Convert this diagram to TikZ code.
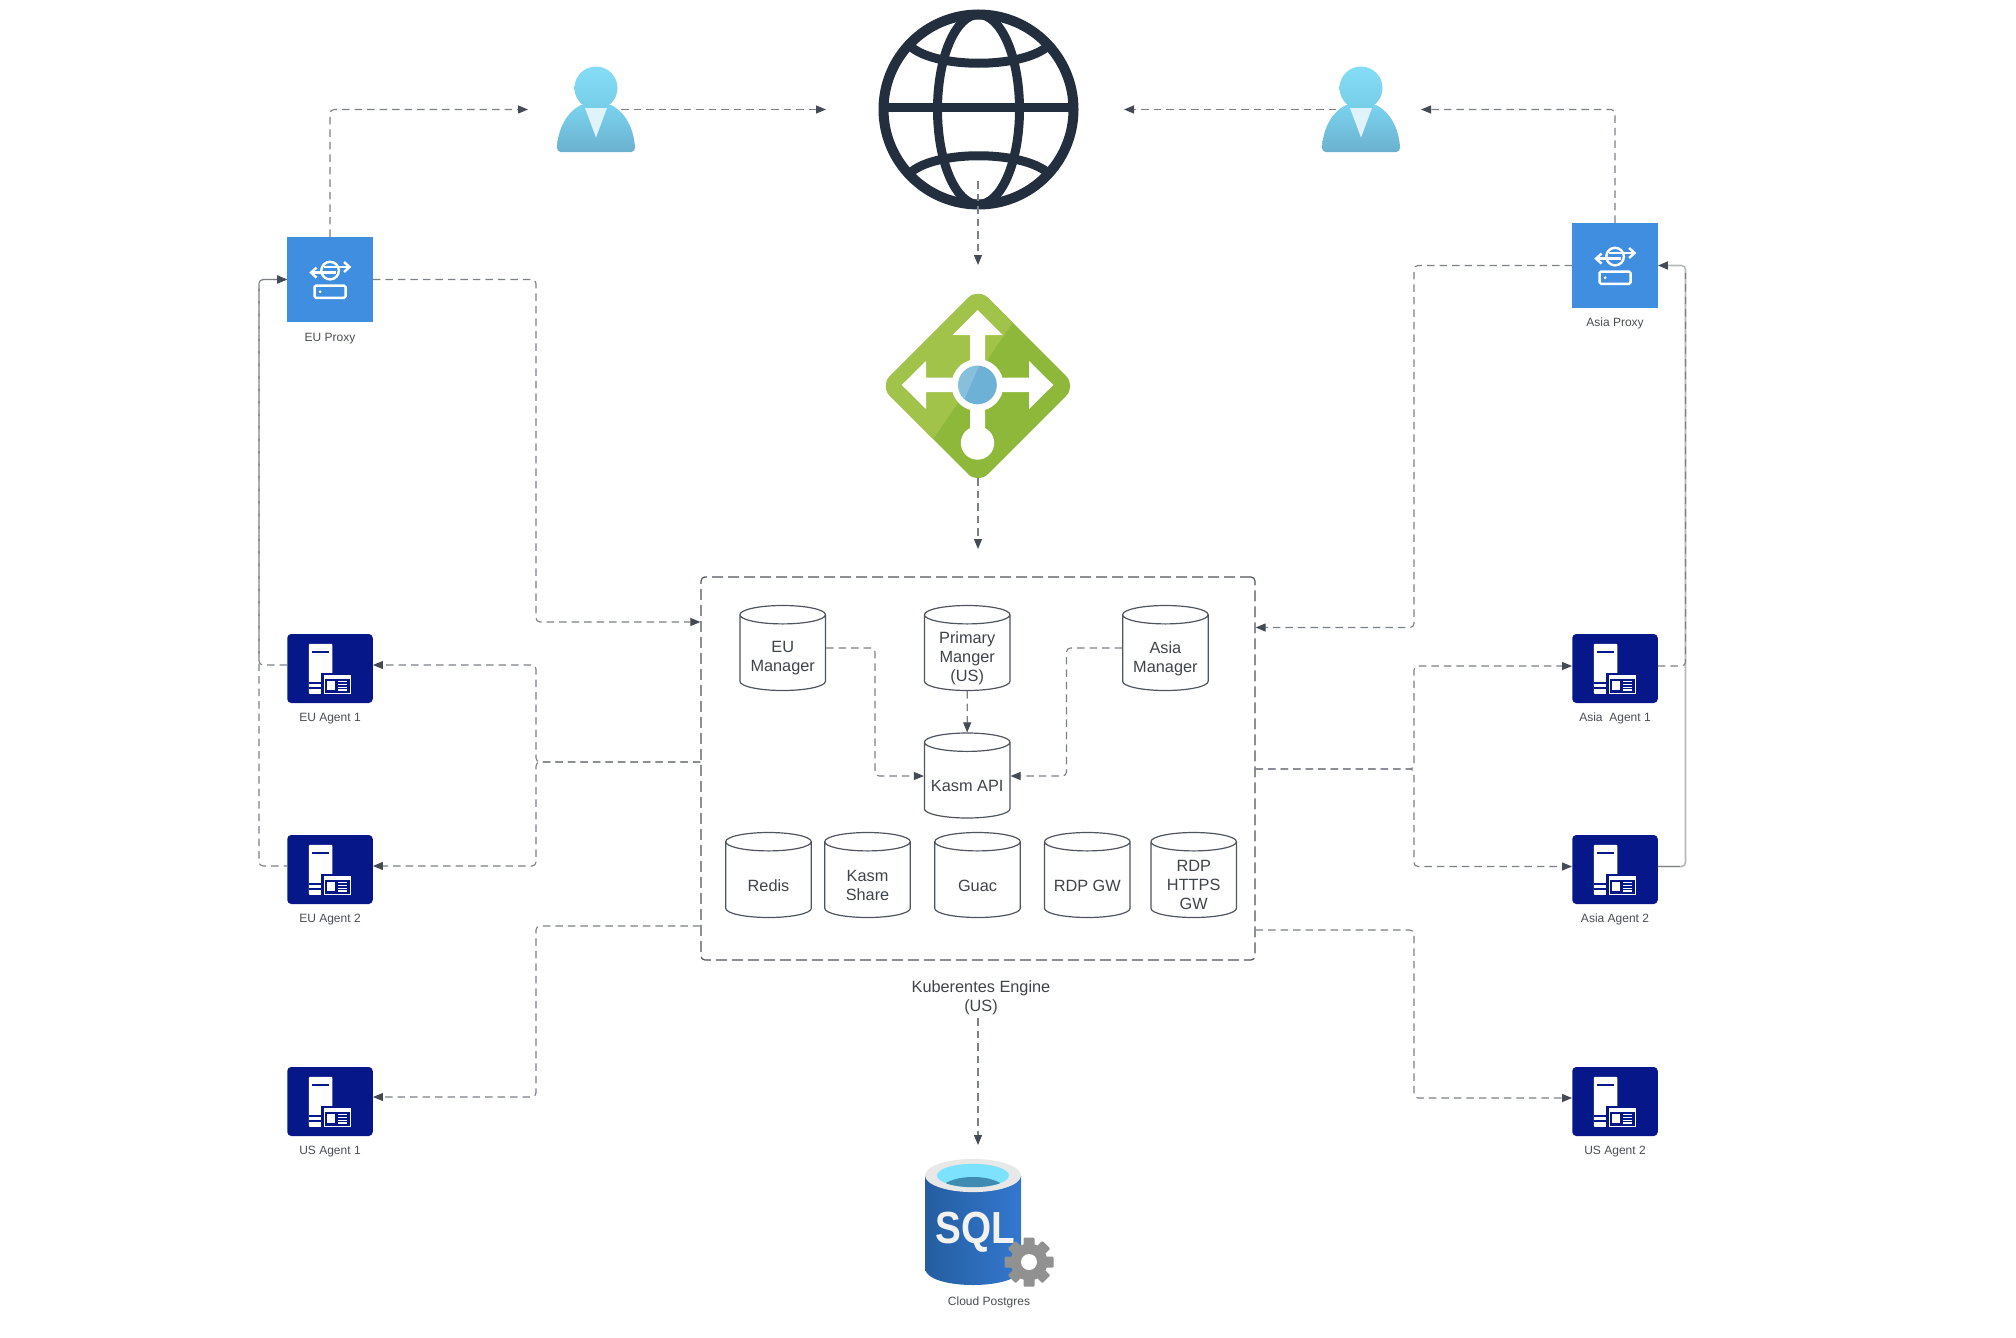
\documentclass[tikz,border=0pt]{standalone}
\usepackage{fontspec}
\setmainfont{Liberation Sans}
\usetikzlibrary{arrows.meta,shapes.geometric,calc}
\definecolor{conn}{HTML}{7B7F86}
\definecolor{tipc}{HTML}{454B54}
\definecolor{boxc}{HTML}{4F555E}
\definecolor{agentc}{HTML}{06178A}
\definecolor{proxyc}{HTML}{408EE0}
\definecolor{txtc}{HTML}{3F444B}
\definecolor{lblc}{HTML}{4A4D52}
\definecolor{globec}{HTML}{232F3E}
\definecolor{lbdark}{HTML}{8DB839}
\definecolor{lblight}{HTML}{A1C349}
\definecolor{gearc}{HTML}{919191}
\definecolor{bodytop}{HTML}{7AD3EE}
\definecolor{bodybot}{HTML}{6BB1CF}
\definecolor{headtop}{HTML}{84DDF6}
\definecolor{headbot}{HTML}{76CDE8}
\definecolor{collar}{HTML}{E0F3FA}
\definecolor{lbblue}{HTML}{6DB2D6}
\definecolor{lbbluel}{HTML}{88BFDD}
\definecolor{sqll}{HTML}{245EA0}
\definecolor{sqlr}{HTML}{3477CF}
\definecolor{sqlrim}{HTML}{E8E8E8}
\definecolor{sqlcy}{HTML}{7DE2FD}
\definecolor{sqlte}{HTML}{3F8BB2}
\newcommand{\cyltext}[1]{\parbox[c][36pt][c]{80pt}{\centering\vspace*{11pt}#1\par}}
\newcommand{\agentart}[1]{%
  \begin{scope}[shift={(#1.north west)}]
    \fill[white,rounded corners=1pt] (21.7,10) rectangle (45.3,60);
    \fill[agentc] (24.7,17.5) rectangle (42,19.5);
    \fill[agentc] (21.7,47.8) rectangle (34.3,49.8);
    \fill[agentc] (21.7,53) rectangle (34.3,55);
    \fill[agentc] (34.3,39) rectangle (64.5,62);
    \fill[white] (36.7,41) rectangle (63.7,60);
    \fill[agentc] (37.7,45.3) rectangle (62.7,58.8);
    \fill[white] (39.7,47) rectangle (47.7,56.5);
    \foreach \ly in {47.5,50.2,52.9,55.6}{\fill[white] (50.5,\ly) rectangle (60,\ly+1.1);}
  \end{scope}}
\newcommand{\proxyart}[1]{%
  \begin{scope}[shift={(#1.north west)},white,line width=2.4pt]
    \draw (43,33.8) circle (8.8);
    \draw (24.5,35.8) -- (49,35.8);
    \draw (37,30.2) -- (62,30.2);
    \draw (29.5,30.8) -- (24,35.8) -- (29.5,40.8);
    \draw (57,25.2) -- (62.5,30.2) -- (57,35.2);
    \draw[rounded corners=1.5pt] (27.5,48.8) rectangle (58.5,61);
    \fill (33,54.9) circle (1.5);
  \end{scope}}
\newcommand{\userart}[1]{%
  \begin{scope}[shift={(#1.center)}]
    \shade[top color=bodytop,bottom color=bodybot]
      (-35.5,42.5) .. controls (-38,42.5) and (-39,40) .. (-39,38)
      .. controls (-38,20) and (-30,3) .. (-15,-4.5) -- (15,-4.5)
      .. controls (30,3) and (38,20) .. (39,38)
      .. controls (39,40) and (38,42.5) .. (35.5,42.5) -- cycle;
    \shade[top color=headtop,bottom color=headbot]
      (0,-21.5) ellipse (21.5 and 21.5);
    \fill[collar] (-11,-1.5) -- (11,-1.5) -- (0,28) -- cycle;
  \end{scope}}
\tikzset{
  flow/.style={draw=conn,line width=1.1pt,dash pattern=on 7.5pt off 5pt,rounded corners=4pt},
  flowtip/.style={flow,-{Triangle[length=10pt,width=8pt,color=tipc]}},
  lighter/.style={draw=conn!55!white,line width=1.6pt,rounded corners=4pt},
  agentbox/.style={fill=agentc,rounded corners=4pt,minimum width=85.5pt,minimum height=69pt,inner sep=0pt},
  proxybox/.style={fill=proxyc,minimum width=85.5pt,minimum height=85pt,inner sep=0pt},
  iconlabel/.style={font=\fontsize{12}{14}\selectfont,text=lblc,inner sep=0pt},
  bodytext/.style={font=\fontsize{16.3}{19}\selectfont,text=txtc,align=center},
  dbcyl/.style={shape=cylinder,shape border rotate=90,aspect=0.23,draw=boxc,line width=1.2pt,fill=white,
     minimum width=85.5pt,minimum height=85pt,inner sep=0pt,anchor=shape center,
     font=\fontsize{16.3}{19}\selectfont,text=txtc}
}
\begin{document}
\begin{tikzpicture}[x=1pt,y=-1pt]
\useasboundingbox (0,0) rectangle (2016,1338);
% container
\node[draw=boxc,line width=1.2pt,dash pattern=on 11pt off 5pt,rounded corners=4pt,minimum width=554pt,minimum height=383pt,inner sep=0pt] (k8s) at (978,768.5) {};
\node[bodytext] (k8slabel) at (981,997.5) {Kuberentes Engine\\(US)};
% cylinders
\node[dbcyl] (eum) at (782.7,648) {\cyltext{EU\\Manager}};
\node[dbcyl] (pm) at (967.2,648) {\cyltext{Primary\\Manger\\(US)}};
\node[dbcyl] (asm) at (1165.4,648) {\cyltext{Asia\\Manager}};
\node[dbcyl] (api) at (967.2,775.5) {\cyltext{Kasm API}};
\node[dbcyl] (redis) at (768.5,875) {\cyltext{Redis}};
\node[dbcyl] (share) at (867.5,875) {\cyltext{Kasm\\Share}};
\node[dbcyl] (guac) at (977.5,875) {\cyltext{Guac}};
\node[dbcyl] (rdpgw) at (1087.3,875) {\cyltext{RDP GW}};
\node[dbcyl] (rdph) at (1193.7,875) {\cyltext{RDP\\HTTPS\\GW}};
% icons
\node[proxybox] (euproxy) at (330,279.5) {};
\node[proxybox] (asproxy) at (1615,265.5) {};
\node[agentbox] (eua1) at (330,668.5) {};
\node[agentbox] (eua2) at (330,869.5) {};
\node[agentbox] (usa1) at (330,1101.5) {};
\node[agentbox] (asa1) at (1615,668.5) {};
\node[agentbox] (asa2) at (1615,869.5) {};
\node[agentbox] (usa2) at (1615,1101.5) {};
\proxyart{euproxy}\proxyart{asproxy}
\agentart{eua1}\agentart{eua2}\agentart{usa1}\agentart{asa1}\agentart{asa2}\agentart{usa2}
\node[iconlabel] (leuproxy) at (330,338.5) {EU Proxy};
\node[iconlabel] (lasproxy) at (1615,323.5) {Asia Proxy};
\node[iconlabel] (leua1) at (330,719) {EU Agent 1};
\node[iconlabel] (leua2) at (330,919.5) {EU Agent 2};
\node[iconlabel] (lusa1) at (330,1151.5) {US Agent 1};
\node[iconlabel] (lasa1) at (1615,718) {Asia\ \ Agent 1};
\node[iconlabel] (lasa2) at (1615,919) {Asia Agent 2};
\node[iconlabel] (lusa2) at (1615,1151.5) {US Agent 2};
\node[iconlabel] (lsql) at (989,1302) {Cloud Postgres};
% globe
\node[circle,draw=globec,line width=10pt,minimum size=190pt,inner sep=0pt] (globe) at (978.5,109.5) {};
\begin{scope}[globec,line width=9pt]
  \draw (globe.center) ellipse (41 and 95);
  \draw (884,107.5) -- (1073,107.5);
  \draw (910,46) .. controls (935,69) and (1022,69) .. (1048,46);
  \draw (910,173) .. controls (935,150) and (1022,150) .. (1048,173);
\end{scope}
% load balancer
\node[inner sep=0pt,minimum size=184pt] (lb) at (978,386) {};
\begin{scope}
  \clip[rounded corners=14pt] (978,288) -- (1076,386) -- (978,484) -- (880,386) -- cycle;
  \fill[lbdark] (880,288) rectangle (1076,484);
  \fill[lblight] (880,288) -- (1040,288) -- (1012.7,322.7) -- (934,438) -- (910,484) -- (880,484) -- cycle;
\end{scope}
\fill[white] (977.5,310) -- (1002.7,335) -- (985,335) -- (985,377.7) -- (1029,377.7) -- (1029,361) -- (1053.3,385)
  -- (1029,409) -- (1029,392) -- (985,392) -- (985,440) -- (970,440) -- (970,392) -- (926,392) -- (926,409)
  -- (901.7,385) -- (926,361) -- (926,377.7) -- (970,377.7) -- (970,335) -- (952.7,335) -- cycle;
\fill[white] (977.5,385) circle (26);
\fill[white] (977.5,443) circle (16.7);
\fill[lbblue] (977.5,385) circle (19.3);
\begin{scope}
  \clip (977.5,385) circle (19.3);
  \fill[lbbluel] (981.7,360) -- (950,360) -- (950,410) -- (960,408) -- (963.3,401.7) -- cycle;
\end{scope}
% free ends
\coordinate (euuserin) at (528,109.5);
\coordinate (asuserin) at (1421,109.5);
\node[inner sep=0pt,minimum width=78pt,minimum height=85pt] (user1) at (596,109.5) {};
\node[inner sep=0pt,minimum width=78pt,minimum height=85pt] (user2) at (1361,109.5) {};
\coordinate (globeinl) at (826,109.5);
\coordinate (globeinr) at (1124,109.5);
\coordinate (globeout) at (978,181);
\coordinate (lbin) at (978,265);
\coordinate (k8sin) at (978,549);
\coordinate (sqlin) at (978,1145);
% connectors behind users
\draw[flowtip] (euproxy.north) |- (euuserin);
\draw[flowtip] (asproxy.north) |- (asuserin);
\draw[flowtip] (user1.center) -- (globeinl);
\draw[flowtip] (user2.center) -- (globeinr);
\userart{user1}\userart{user2}
\draw[flowtip] (globeout) -- (lbin);
\draw[flowtip] (lb.south) -- (k8sin);
\draw[flowtip] (k8slabel.south -| sqlin) -- (sqlin);
% EU side
\draw[flowtip] (euproxy.east) -- (536,279.5) -- (536,622) -- (k8s.west |- 0,622);
\draw[flowtip] (k8s.west |- 0,762) -- (536,762) -- (536,665) -- (eua1.east |- 0,665);
\draw[flowtip] (k8s.west |- 0,762) -- (536,762) -- (536,866) -- (eua2.east |- 0,866);
\draw[flowtip] (k8s.west |- 0,926) -- (536,926) -- (536,1097) -- (usa1.east |- 0,1097);
\draw[flowtip] (eua1.west |- 0,665) -- (259,665) -- (259,279.5) -- (euproxy.west);
\draw[flowtip,dash phase=4pt] (eua2.west |- 0,866) -- (259,866) -- (259,279.5) -- (euproxy.west);
% Asia side
\draw[flowtip] (asproxy.west) -- (1414,265.5) -- (1414,627.5) -- (k8s.east |- 0,627.5);
\draw[flowtip] (k8s.east |- 0,769) -- (1414,769) -- (1414,666) -- (asa1.west |- 0,666);
\draw[flowtip] (k8s.east |- 0,769) -- (1414,769) -- (1414,866.5) -- (asa2.west |- 0,866.5);
\draw[flowtip] (k8s.east |- 0,930) -- (1414,930) -- (1414,1098) -- (usa2.west |- 0,1098);
\draw[lighter,-{Triangle[length=10pt,width=8pt,color=tipc]}] (asa2.east |- 0,866.5) -- (1685.5,866.5) -- (1685.5,265.5) -- (asproxy.east);
\draw[draw=conn,line width=1.1pt] (asa2.east |- 0,866.5) -- (1680,866.5);
\draw[flow] (asa1.east |- 0,666) -- (1685.5,666) -- (1685.5,273);
% inside container
\draw[flowtip] (eum.east |- 0,648) -- (875,648) -- (875,776) -- (api.west |- 0,776);
\draw[flowtip] (asm.west |- 0,648) -- (1066.5,648) -- (1066.5,776) -- (api.east |- 0,776);
\draw[flowtip] (pm.south) -- (api.north);
% SQL
\node[inner sep=0pt,minimum width=96pt,minimum height=126pt] (sql) at (973,1222) {};
\shade[left color=sqll,right color=sqlr]
  (925,1175.5) -- (925,1268) .. controls (925,1279) and (948,1285) .. (973,1285)
  .. controls (998,1285) and (1021,1279) .. (1021,1268) -- (1021,1175.5) -- cycle;
\fill[sqlrim] (973,1175.5) ellipse (48 and 16.6);
\fill[sqlcy] (973,1175.5) ellipse (36 and 11.7);
\begin{scope}
  \clip (973,1175.5) ellipse (36 and 11.7);
  \fill[sqlte] (973,1190) ellipse (32 and 13);
\end{scope}
\node[inner sep=0pt,text=white!95!black,font=\fontsize{45}{45}\bfseries\selectfont] (sqltext) at (975,1232.5) {\scalebox{.86}[1]{SQL}};
\fill[gearc] (1029,1262) circle (18.5);
\foreach \a in {0,45,...,315}{\fill[gearc,rotate around={\a:(1029,1262)},rounded corners=1pt] (1023.5,1237.5) rectangle (1034.5,1250);}
\fill[white] (1029,1262) circle (8);
\end{tikzpicture}
\end{document}
